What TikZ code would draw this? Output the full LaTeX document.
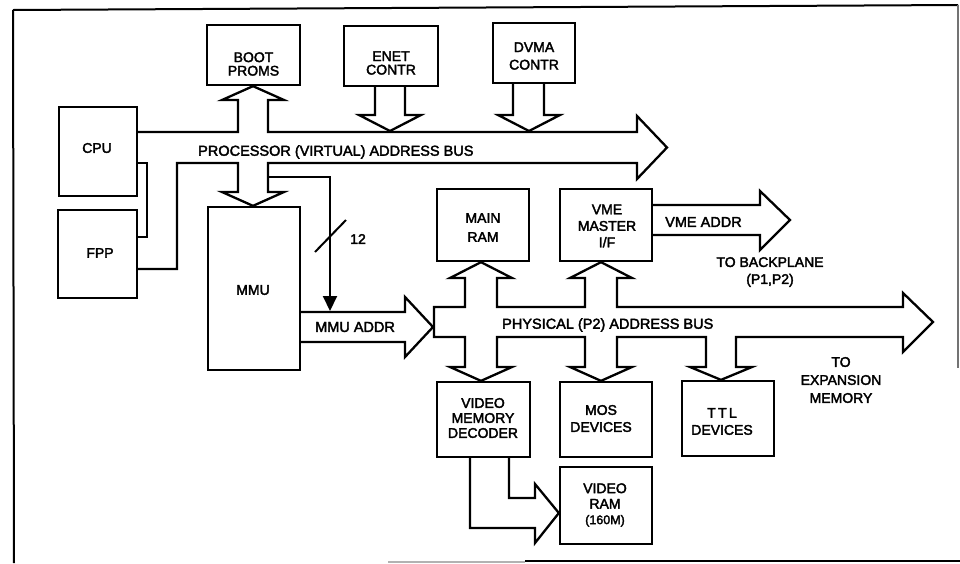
\documentclass[tikz,border=0pt]{standalone}
\usepackage{fontspec}
\newfontfamily\lab{Liberation Sans}[FakeBold=2.5]
\usetikzlibrary{arrows.meta}
\begin{document}
\begin{tikzpicture}[x=1pt,y=-1pt,
  box/.style={draw, line width=2.3pt, inner sep=0pt},
  bus/.style={draw, line width=2.3pt, line join=miter},
  wire/.style={draw, line width=2pt},
  frame/.style={draw, line width=2pt},
  txt/.style={font=\lab\fontsize{14}{15}\selectfont, align=center, inner sep=0pt},
  buslbl/.style={font=\lab\fontsize{14.5}{16}\selectfont, inner sep=0pt, anchor=west}]
\useasboundingbox (0,0) rectangle (960,563);

% outer frame
\draw[frame] (13,10) -- (958,5);
\draw[frame] (13,10) -- (14,563);
\draw[line width=1.4pt, black!55] (958,5) -- (958,368);
\draw[frame] (525,561) -- (960,561);
\draw[line width=1.2pt, black!30] (388,562) -- (525,562);

% functional blocks
\node[box, minimum width=93pt, minimum height=60pt] (boot)    at (253.5,55)  {};
\node[box, minimum width=94pt, minimum height=60pt] (enet)    at (391,56)    {};
\node[box, minimum width=82pt, minimum height=60pt] (dvma)    at (534,53)    {};
\node[box, minimum width=78pt, minimum height=89pt] (cpu)     at (98,151.5)  {};
\node[box, minimum width=79pt, minimum height=88pt] (fpp)     at (97.5,254)  {};
\node[box, minimum width=92pt, minimum height=163pt] (mmu)    at (254,288.5) {};
\node[box, minimum width=92pt, minimum height=72pt] (mainram) at (483,225)   {};
\node[box, minimum width=92pt, minimum height=72pt] (vme)     at (606,225)   {};
\node[box, minimum width=93pt, minimum height=75pt] (viddec)  at (483.5,419.5) {};
\node[box, minimum width=92pt, minimum height=75pt] (mos)     at (606,419.5) {};
\node[box, minimum width=92pt, minimum height=75pt] (ttl)     at (728,418.5) {};
\node[box, minimum width=92pt, minimum height=77pt] (vidram)  at (606,505.5) {};

% block captions
\node[txt, font=\lab\fontsize{14}{13.5}\selectfont] (bootT) at (253.5,64) {BOOT\\PROMS};
\node[txt, font=\lab\fontsize{14}{13.5}\selectfont] (enetT) at (391,63) {ENET\\CONTR};
\node[txt, font=\lab\fontsize{14}{17.5}\selectfont] (dvmaT) at (534,56) {DVMA\\CONTR};
\node[txt] (cpuT) at (97,148) {CPU};
\node[txt] (fppT) at (100,253) {FPP};
\node[txt] (mmuT) at (253,290) {MMU};
\node[txt, font=\lab\fontsize{14}{19}\selectfont] (mainramT) at (483,227.5) {MAIN\\RAM};
\node[txt, font=\lab\fontsize{14}{16.5}\selectfont] (vmeT) at (607,226) {VME\\MASTER\\I/F};
\node[txt] (viddecT) at (483,418) {VIDEO\\MEMORY\\DECODER};
\node[txt, font=\lab\fontsize{14}{17}\selectfont] (mosT) at (601,418.5) {MOS\\DEVICES};
\node[txt, font=\lab\fontsize{14}{17}\selectfont] (ttlT) at (722,421.5) {T\,T\,L\\DEVICES};
\node[txt, font=\lab\fontsize{14}{15.5}\selectfont] (vidramT) at (605,505) {VIDEO\\RAM\\{\fontsize{12.5}{15}\selectfont(160M)}};

% processor (virtual) address bus with its taps
\draw[bus] (cpu.east |- 0,132) -- (238,132) -- (238,100) -- (222,100) -- (boot.south -| 253,0)
  -- (284,100) -- (268,100) -- (268,132) -- (637,132) -- (637,116) -- (667,147.5)
  -- (637,179) -- (637,163) -- (268,163) -- (268,192) -- (284,192) -- (mmu.north -| 253,0)
  -- (222,192) -- (238,192) -- (238,163) -- (177,163) -- (177,269) -- (fpp.east |- 0,269);
\draw[bus] (cpu.east |- 0,163) -- (147,163) -- (147,237) -- (fpp.east |- 0,237);
\draw[bus] (enet.south -| 375,0) -- (375,115) -- (359,115) -- (390,131) -- (421,115)
  -- (405,115) -- (enet.south -| 405,0);
\draw[bus] (dvma.south -| 513,0) -- (513,115) -- (498,115) -- (529,131) -- (560,115)
  -- (544,115) -- (dvma.south -| 544,0);
\node[buslbl] (pbusT) at (198,152) {PROCESSOR (VIRTUAL) ADDRESS BUS};

% 12-bit page offset bypassing the MMU
\coordinate (tap) at (268,177);
\coordinate (tapend) at (330,311);
\draw[wire, -{Triangle[length=15pt,width=14pt]}] (tap) -| (tapend);
\draw[wire] (315,252) -- (346,220);
\node[txt] (n12) at (358,239) {12};

% MMU output
\draw[bus] (mmu.east |- 0,312) -- (405,312) -- (405,297) -- (433,327) -- (405,357)
  -- (405,342) -- (mmu.east |- 0,342);
\node[buslbl] (mmuaddrT) at (315,327) {MMU ADDR};

% physical (P2) address bus with its taps
\draw[bus] (434,337) -- (434,307) -- (465,307) -- (465,278) -- (450,278) -- (mainram.south -| 481,0)
  -- (512,278) -- (497,278) -- (497,307) -- (585,307) -- (585,278) -- (570,278) -- (vme.south -| 601,0)
  -- (632,278) -- (617,278) -- (617,307) -- (903,307) -- (903,293) -- (933,322) -- (903,352)
  -- (903,337) -- (736,337) -- (736,367) -- (752,367) -- (ttl.north -| 721,0) -- (690,367)
  -- (706,367) -- (706,337) -- (617,337) -- (617,367) -- (632,367) -- (mos.north -| 601,0)
  -- (570,367) -- (585,367) -- (585,337) -- (497,337) -- (497,367) -- (512,367)
  -- (viddec.north -| 481,0) -- (450,367) -- (465,367) -- (465,337) -- cycle;
\node[buslbl] (phbusT) at (502,325) {PHYSICAL (P2) ADDRESS BUS};
\node[txt, font=\lab\fontsize{14}{18}\selectfont] (expT) at (841,380) {TO\\EXPANSION\\MEMORY};

% VME master output
\draw[bus] (vme.east |- 0,205) -- (760,205) -- (760,191) -- (790,220) -- (760,250)
  -- (760,235) -- (vme.east |- 0,235);
\node[buslbl] (vmeaddrT) at (665,222) {VME ADDR};
\node[txt, font=\lab\fontsize{14}{17}\selectfont] (bpT) at (770,272) {TO BACKPLANE\\(P1,P2)};

% video decoder to video RAM
\draw[bus] (viddec.south -| 470,0) -- (470,528) -- (535,528) -- (535,543) -- (vidram.west |- 0,513)
  -- (535,484) -- (535,498) -- (509,498) -- (viddec.south -| 509,0);
\end{tikzpicture}
\end{document}
